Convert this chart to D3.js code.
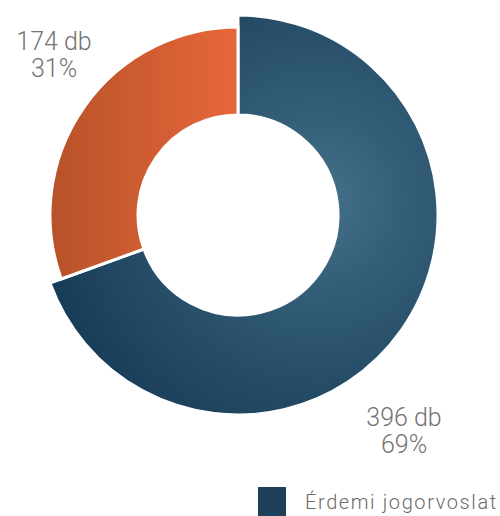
<!DOCTYPE html>
<html><head><meta charset="utf-8">
<script src="https://cdn.jsdelivr.net/npm/d3@7"></script>
<style>body{margin:0;background:#fff}</style>
</head><body>
<svg id="c" width="500" height="516"></svg>
<script>
const categories = ["Érdemi jogorvoslat", "Egyéb"];
const values = [396, 174];
const percents = ["69%", "31%"];
const svg = d3.select("#c");
const cx = 238, cy = 215;
const defs = svg.append("defs");
const rg = defs.append("radialGradient").attr("id","gBlue").attr("gradientUnits","userSpaceOnUse")
  .attr("cx",80).attr("cy",-15).attr("r",290);
rg.append("stop").attr("offset",0).attr("stop-color","#44718b");
rg.append("stop").attr("offset",0.3).attr("stop-color","#345e78");
rg.append("stop").attr("offset",1).attr("stop-color","#163a55");
const lg = defs.append("linearGradient").attr("id","gOrange").attr("gradientUnits","userSpaceOnUse")
  .attr("x1",-188).attr("y1",0).attr("x2",0).attr("y2",0);
lg.append("stop").attr("offset",0).attr("stop-color","#b75229");
lg.append("stop").attr("offset",1).attr("stop-color","#e7673a");
const fills = ["url(#gBlue)","url(#gOrange)"];
const outerR = [200, 188];
const pie = d3.pie().sort(null)(values);
const g = svg.append("g").attr("transform",`translate(${cx},${cy})`);
g.selectAll("path").data(pie).join("path")
  .attr("d",(d,i)=>d3.arc().innerRadius(100).outerRadius(outerR[i])(d))
  .attr("fill",(d,i)=>fills[i]).attr("stroke","#fff").attr("stroke-width",3);
const labelPos = [[404,426],[54,50]];
const tg = svg.append("g").attr("font-family","Roboto, 'Open Sans', sans-serif").attr("font-weight",300)
  .attr("font-size",25).attr("fill","#737373").attr("text-anchor","middle");
values.forEach((v,i)=>{
  tg.append("text").attr("x",labelPos[i][0]).attr("y",labelPos[i][1]).text(v+" db");
  tg.append("text").attr("x",labelPos[i][0]).attr("y",labelPos[i][1]+27).text(percents[i]);
});
svg.append("rect").attr("x",258).attr("y",487).attr("width",28).attr("height",29).attr("fill","#1c3f5a");
svg.append("text").attr("x",305).attr("y",509).attr("font-family","Roboto, sans-serif").attr("font-weight",300)
  .attr("font-size",20).attr("letter-spacing",1.6).attr("fill","#6a6a6a").text(categories[0]);
</script>
</body></html>
